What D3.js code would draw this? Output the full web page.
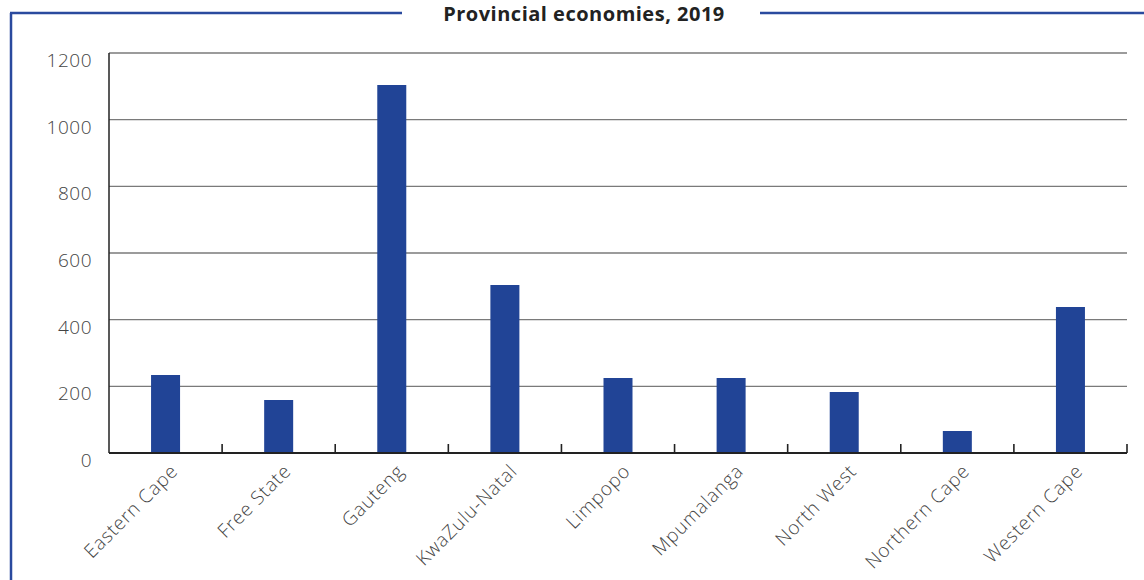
<!DOCTYPE html>
<html>
<head>
<meta charset="utf-8">
<script src="https://cdn.jsdelivr.net/npm/d3@7"></script>
<style>
  body { margin: 0; background: #fff; }
  svg { display: block; }
</style>
</head>
<body>
<svg id="chart" width="1144" height="580"></svg>
<script>
// data
const provinces = ["Eastern Cape", "Free State", "Gauteng", "KwaZulu-Natal", "Limpopo", "Mpumalanga", "North West", "Northern Cape", "Western Cape"];
const gdpValues = [234, 159, 1104, 504, 225, 225, 183, 66, 438];
const yTicks = [0, 200, 400, 600, 800, 1000, 1200];
const chartTitle = "Provincial economies, 2019";

const svg = d3.select("#chart");
const margins = {left: 109, right: 17, top: 53, bottom: 127};
const W = 1144, H = 580;
const labelFont = "'Open Sans', sans-serif";

let xScale = d3.scaleBand()
    .domain(provinces)
    .range([margins.left, W - margins.right])
    .paddingInner(0)
    .paddingOuter(0);

let yScale = d3.scaleLinear()
    .domain([0, 1200])
    .range([H - margins.bottom, margins.top]);

// outer frame (blue)
const frameColor = "#2a4a9e";
svg.append("line")
    .attr("x1", 11).attr("x2", 11)
    .attr("y1", 13).attr("y2", H)
    .attr("stroke", frameColor).attr("stroke-width", 2.5);
svg.append("line")
    .attr("x1", 10).attr("x2", 402)
    .attr("y1", 13).attr("y2", 13)
    .attr("stroke", frameColor).attr("stroke-width", 2.5);
svg.append("line")
    .attr("x1", 760).attr("x2", W)
    .attr("y1", 13).attr("y2", 13)
    .attr("stroke", frameColor).attr("stroke-width", 2.5);

svg.append("text")
    .attr("x", 584).attr("y", 21)
    .attr("text-anchor", "middle")
    .style("font-family", "'Open Sans', sans-serif")
    .style("font-weight", "bold")
    .style("font-size", "20px")
    .style("letter-spacing", "0.5px")
    .style("fill", "#222")
    .text(chartTitle);

// gridlines
svg.append("g")
    .selectAll("line")
    .data(yTicks.filter(d => d > 0))
    .join("line")
    .attr("x1", margins.left).attr("x2", W - margins.right)
    .attr("y1", d => yScale(d)).attr("y2", d => yScale(d))
    .attr("stroke", "#7a7a7a").attr("stroke-width", 1.4);

// y axis labels
svg.append("g")
    .selectAll("text")
    .data(yTicks)
    .join("text")
    .attr("x", 92)
    .attr("y", d => yScale(d) + 14)
    .attr("text-anchor", "end")
    .style("font-family", labelFont)
    .style("font-weight", 300)
    .style("font-size", "19px")
    .style("letter-spacing", "0.5px")
    .style("fill", "#444")
    .text(d => d);

// bars
const barWidth = 29;
svg.append("g")
    .selectAll("rect")
    .data(provinces)
    .join("rect")
    .attr("x", d => xScale(d) + xScale.bandwidth() / 2 - barWidth / 2)
    .attr("y", (d, i) => yScale(gdpValues[i]))
    .attr("width", barWidth)
    .attr("height", (d, i) => yScale(0) - yScale(gdpValues[i]))
    .style("fill", "#214496");

// left axis line
svg.append("line")
    .attr("x1", margins.left).attr("x2", margins.left)
    .attr("y1", margins.top).attr("y2", yScale(0))
    .attr("stroke", "#222").attr("stroke-width", 1.5);

// x axis with upward ticks at band boundaries
const xAxisG = svg.append("g")
    .attr("transform", `translate(0, ${yScale(0)})`);
xAxisG.append("line")
    .attr("x1", margins.left).attr("x2", W - margins.right)
    .attr("stroke", "#222").attr("stroke-width", 2.2);
xAxisG.selectAll("line.tick")
    .data(provinces.slice(1).concat(["end"]))
    .join("line")
    .attr("class", "tick")
    .attr("x1", d => d == "end" ? W - margins.right : xScale(d))
    .attr("x2", d => d == "end" ? W - margins.right : xScale(d))
    .attr("y1", 0).attr("y2", -9)
    .attr("stroke", "#222").attr("stroke-width", 1.6);

// rotated category labels
xAxisG.selectAll("text")
    .data(provinces)
    .join("text")
    .attr("transform", d => `translate(${xScale(d) + xScale.bandwidth() / 2 + 4}, 10) rotate(-45)`)
    .attr("text-anchor", "end")
    .attr("dy", "0.7em")
    .style("font-family", labelFont)
    .style("font-weight", 300)
    .style("font-size", "19px")
    .style("letter-spacing", "0.8px")
    .style("fill", "#444")
    .text(d => d);
</script>
</body>
</html>
